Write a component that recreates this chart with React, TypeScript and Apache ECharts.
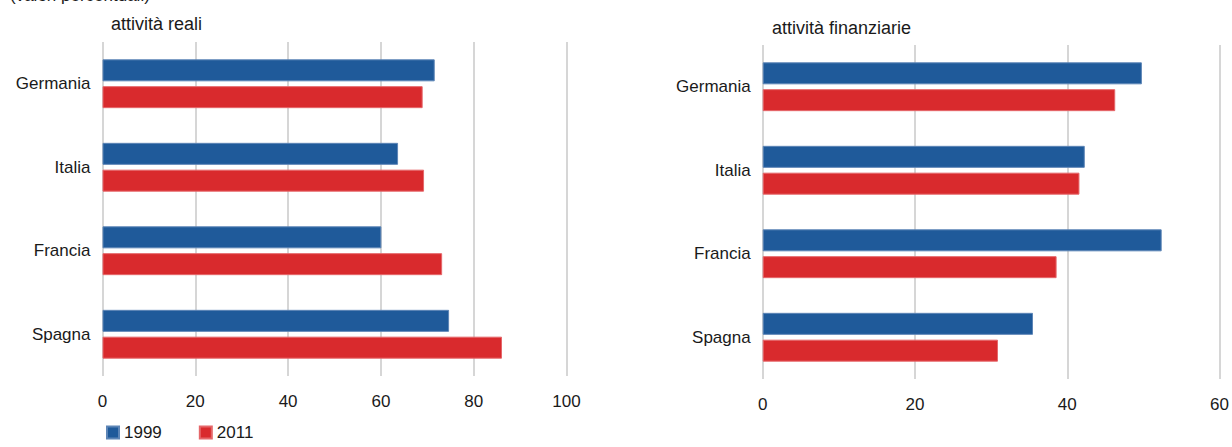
import React, { useEffect, useRef } from "react";
import * as echarts from "echarts";

const countries = ["Germania", "Italia", "Francia", "Spagna"];
const realTitle = "attività reali";
const finTitle = "attività finanziarie";
const unitNote = "(valori percentuali)";
const real1999 = [71.6, 63.7, 60.1, 74.7];
const real2011 = [69.0, 69.3, 73.2, 86.1];
const fin1999 = [49.8, 42.3, 52.4, 35.5];
const fin2011 = [46.3, 41.6, 38.6, 30.9];
const seriesNames = ["1999", "2011"];

const BLUE = "#1f5a9a";
const RED = "#d92a2d";
const FONT = "Liberation Sans, Arial, sans-serif";
const TXT = "#1a1a1a";

export default function App() {
  const ref = useRef<HTMLDivElement>(null);
  useEffect(() => {
    if (!ref.current) return;
    const chart = echarts.init(ref.current, undefined, { renderer: "svg" });
    const xAxisBase = (max: number) => ({
      type: "value" as const,
      min: 0,
      max,
      interval: 20,
      axisLine: { show: false },
      axisTick: { show: false },
      splitLine: { show: true, lineStyle: { color: "#c8c8c8", width: 1.5 } },
      axisLabel: { color: TXT, fontSize: 17, fontFamily: FONT, margin: 17 },
    });
    const yAxisBase = {
      type: "category" as const,
      data: countries,
      inverse: true,
      axisLine: { show: false },
      axisTick: { show: false },
      axisLabel: { color: TXT, fontSize: 17, fontFamily: FONT, margin: 12 },
    };
    const bar = (name: string, data: number[], idx: number, color: string, border: string) => ({
      name,
      type: "bar" as const,
      xAxisIndex: idx,
      yAxisIndex: idx,
      data,
      barWidth: 22,
      barGap: "22%",
      itemStyle: { color, borderColor: border, borderWidth: 1 },
    });
    chart.setOption({
      animation: false,
      textStyle: { fontFamily: FONT },
      grid: [
        { left: 102.5, top: 42, width: 464, height: 334 },
        { left: 762.7, top: 45, width: 458, height: 334 },
      ],
      xAxis: [
        { ...xAxisBase(100), gridIndex: 0 },
        { ...xAxisBase(60), gridIndex: 1 },
      ],
      yAxis: [
        { ...yAxisBase, gridIndex: 0 },
        { ...yAxisBase, gridIndex: 1 },
      ],
      legend: {
        data: seriesNames,
        left: 106,
        top: 424,
        padding: 0,
        itemWidth: 12,
        itemHeight: 12,
        itemGap: 37,
        icon: "rect",
        textStyle: { color: TXT, fontSize: 17, fontFamily: FONT },
      },
      graphic: [
        {
          type: "text",
          left: 10,
          top: -13,
          style: { text: unitNote, fontSize: 17, fontFamily: FONT, fill: TXT },
        },
        {
          type: "text",
          left: 111,
          top: 15,
          style: { text: realTitle, fontSize: 18, fontFamily: FONT, fill: TXT },
        },
        {
          type: "text",
          left: 772,
          top: 19,
          style: { text: finTitle, fontSize: 18, fontFamily: FONT, fill: TXT },
        },
      ],
      series: [
        bar(seriesNames[0], real1999, 0, BLUE, "#5d85b6"),
        bar(seriesNames[1], real2011, 0, RED, "#e5676a"),
        bar(seriesNames[0], fin1999, 1, BLUE, "#5d85b6"),
        bar(seriesNames[1], fin2011, 1, RED, "#e5676a"),
      ],
    });
    return () => chart.dispose();
  }, []);
  return (
    <div
      ref={ref}
      style={{ position: "absolute", left: 0, top: 0, width: 1232, height: 447, background: "#fff" }}
    />
  );
}
